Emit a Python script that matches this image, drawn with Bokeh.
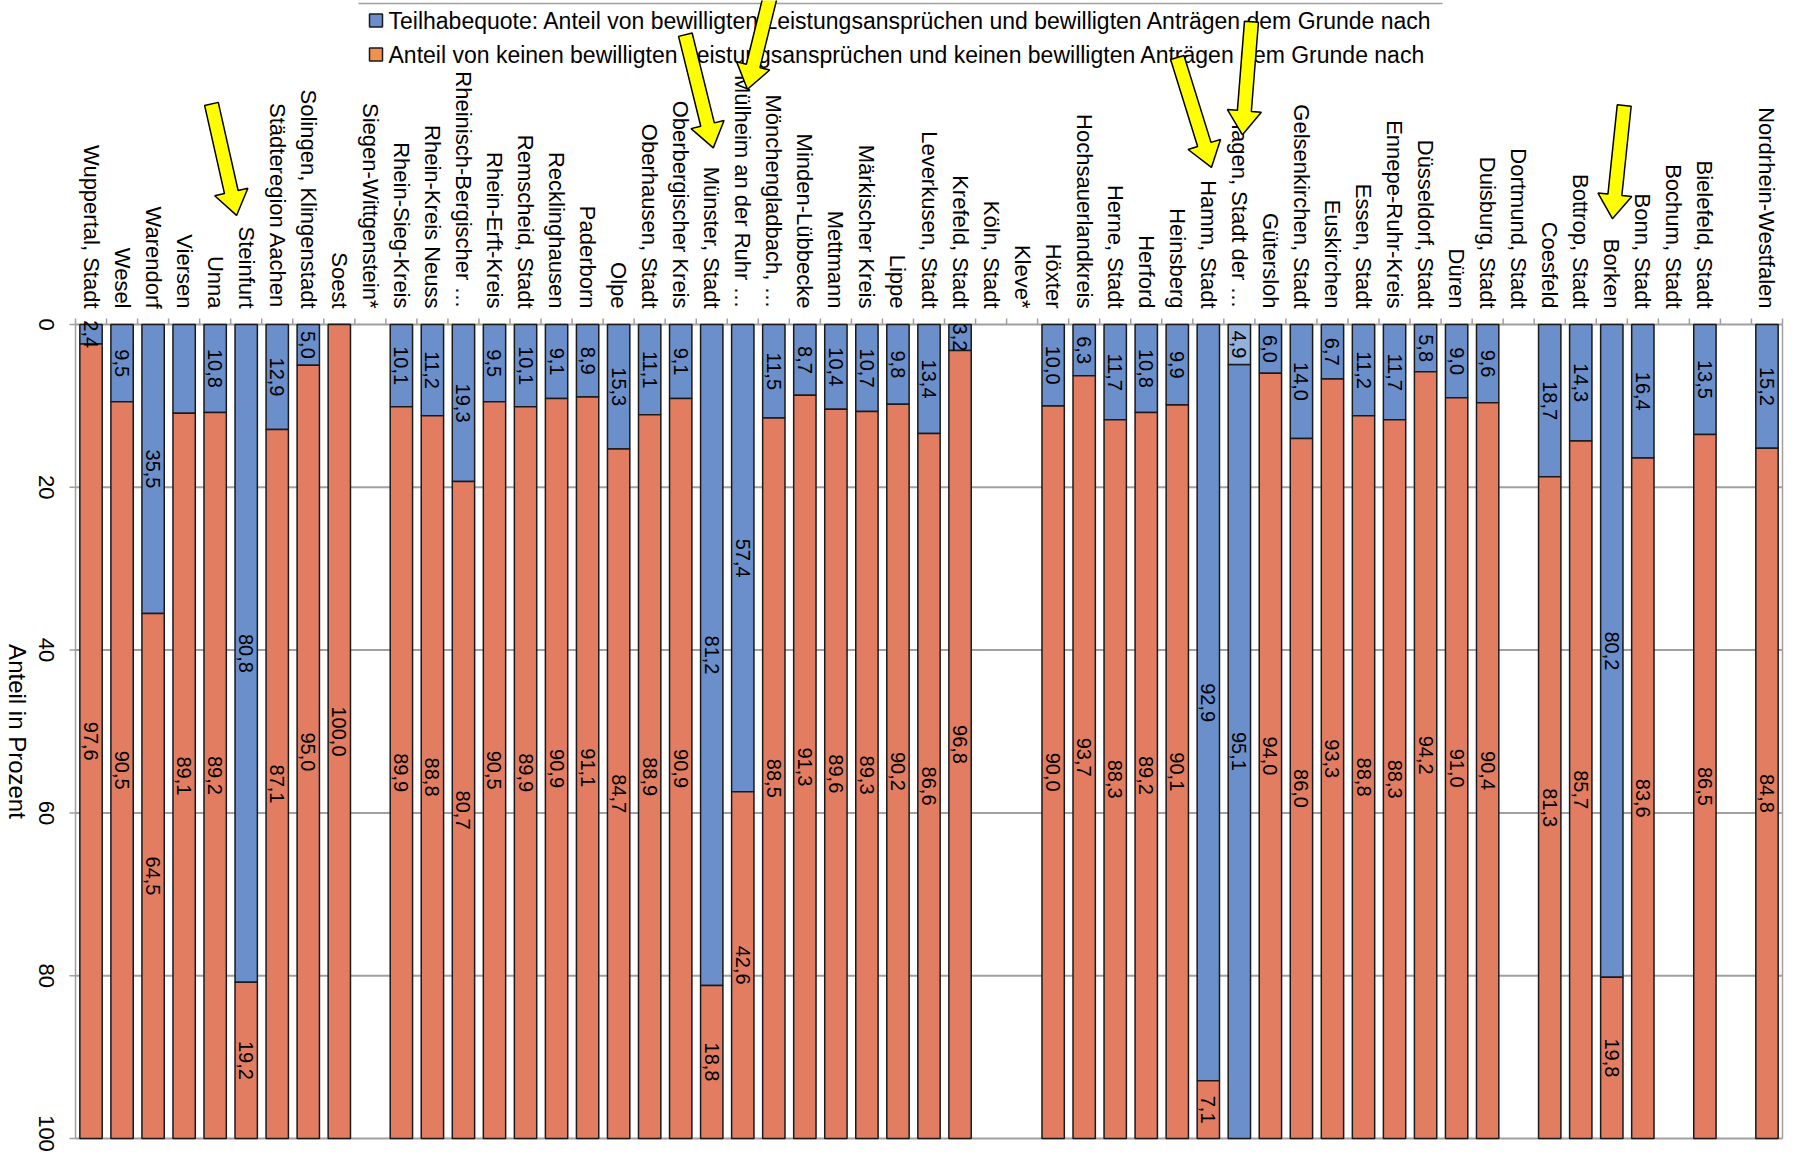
import math
from bokeh.plotting import figure
from bokeh.models import Range1d
from bokeh.core.properties import value
from bokeh.embed import file_html
from bokeh.resources import INLINE

NaN = float("nan")

# ---------------- data ----------------
kreise = ["Wuppertal, Stadt", "Wesel", "Warendorf", "Viersen", "Unna", "Steinfurt",
          "Städteregion Aachen", "Solingen, Klingenstadt", "Soest", "Siegen-Wittgenstein*",
          "Rhein-Sieg-Kreis", "Rhein-Kreis Neuss", "Rheinisch-Bergischer …", "Rhein-Erft-Kreis",
          "Remscheid, Stadt", "Recklinghausen", "Paderborn", "Olpe", "Oberhausen, Stadt",
          "Oberbergischer Kreis", "Münster, Stadt", "Mülheim an der Ruhr …", "Mönchengladbach, …",
          "Minden-Lübbecke", "Mettmann", "Märkischer Kreis", "Lippe", "Leverkusen, Stadt",
          "Krefeld, Stadt", "Köln, Stadt", "Kleve*", "Höxter", "Hochsauerlandkreis",
          "Herne, Stadt", "Herford", "Heinsberg", "Hamm, Stadt", "Hagen, Stadt der …",
          "Gütersloh", "Gelsenkirchen, Stadt", "Euskirchen", "Essen, Stadt", "Ennepe-Ruhr-Kreis",
          "Düsseldorf, Stadt", "Düren", "Duisburg, Stadt", "Dortmund, Stadt", "Coesfeld",
          "Bottrop, Stadt", "Borken", "Bonn, Stadt", "Bochum, Stadt", "Bielefeld, Stadt", "",
          "Nordrhein-Westfalen"]

teilhabe = [2.4, 9.5, 35.5, 10.9, 10.8, 80.8, 12.9, 5.0, 0.0, NaN,
            10.1, 11.2, 19.3, 9.5, 10.1, 9.1, 8.9, 15.3, 11.1, 9.1,
            81.2, 57.4, 11.5, 8.7, 10.4, 10.7, 9.8, 13.4, 3.2, NaN,
            NaN, 10.0, 6.3, 11.7, 10.8, 9.9, 92.9, 95.1, 6.0, 14.0,
            6.7, 11.2, 11.7, 5.8, 9.0, 9.6, NaN, 18.7, 14.3, 80.2,
            16.4, NaN, 13.5, NaN, 15.2]

keine = [97.6, 90.5, 64.5, 89.1, 89.2, 19.2, 87.1, 95.0, 100.0, NaN,
         89.9, 88.8, 80.7, 90.5, 89.9, 90.9, 91.1, 84.7, 88.9, 90.9,
         18.8, 42.6, 88.5, 91.3, 89.6, 89.3, 90.2, 86.6, 96.8, NaN,
         NaN, 90.0, 93.7, 88.3, 89.2, 90.1, 7.1, 4.9, 94.0, 86.0,
         93.3, 88.8, 88.3, 94.2, 91.0, 90.4, NaN, 81.3, 85.7, 19.8,
         83.6, NaN, 86.5, NaN, 84.8]

y_ticks = [0, 20, 40, 60, 80, 100]
y_titel = "Anteil in Prozent"
legende = ["Teilhabequote: Anteil von bewilligten Leistungsansprüchen und bewilligten Anträgen dem Grunde nach",
           "Anteil von keinen bewilligten Leistungsansprüchen und keinen bewilligten Anträgen dem Grunde nach"]
ohne_teilhabe_label = ["Viersen"]          # no data label shown in the original
umgekehrt = ["Hagen, Stadt der …"]         # segment order shown reversed in the original

# arrows: target, tail offset (dx, dy), tip offset (dx, dy) in data units
pfeile = [("Steinfurt", -1.12, -27.1, -0.31, -13.4),
          ("Münster, Stadt", -0.85, -35.6, 0.05, -21.7),
          ("Mülheim an der Ruhr …", 0.89, -40.4, 0.15, -28.9),
          ("Hamm, Stadt", -1.0, -32.8, 0.1, -19.3),
          ("Hagen, Stadt der …", 0.39, -37.2, 0.1, -23.3),
          ("Borken", 0.4, -26.9, 0.02, -13.0)]

# ---------------- style / layout ----------------
BLAU = "#6A8FCB"
ORANGE = "#E27D62"
HELLBLAU = "#93B1DD"
LEG_ORANGE = "#F0914E"
GRAU = "#A0A0A0"
RAND = "#1a1a1a"
FONT = value("Liberation Sans")

W, H = 1797, 1155
FL, FT, FR, FB = 75, 324, 1782, 1138      # plotting area in canvas pixels
n = len(kreise)
sx = (FR - FL) / n
sy = (FB - FT) / 100.0

def xd(px):
    return -0.5 + (px - FL) / sx

def yd(py):
    return (py - FT) / sy

def fmt(v):
    return f"{v:.1f}".replace(".", ",")

# ---------------- segments ----------------
tx, tb, tt = [], [], []
kx, kb, kt = [], [], []
hx, hb, ht = [], [], []
lx, ly, lt = [], [], []
for i, (name, t, k) in enumerate(zip(kreise, teilhabe, keine)):
    if math.isnan(t) or math.isnan(k):
        continue
    if name in umgekehrt:
        hx.append(i); hb.append(0); ht.append(k)
        tx.append(i); tb.append(k); tt.append(k + t)
        lx += [i, i]; ly += [k / 2, k + t / 2]; lt += [fmt(k), fmt(t)]
    else:
        tx.append(i); tb.append(0); tt.append(t)
        kx.append(i); kb.append(t); kt.append(t + k)
        if t > 0 and name not in ohne_teilhabe_label:
            lx.append(i); ly.append(t / 2); lt.append(fmt(t))
        if k > 0:
            lx.append(i); ly.append(t + k / 2); lt.append(fmt(k))

p = figure(width=W, height=H, title=None,
           x_range=Range1d(xd(0), xd(W)), y_range=Range1d(yd(H), yd(0)),
           x_axis_location=None, y_axis_location=None,
           output_backend="svg", toolbar_location=None,
           min_border_left=0, min_border_right=0, min_border_top=0, min_border_bottom=0)
p.background_fill_color = "white"
p.border_fill_color = "white"
p.outline_line_color = None
p.grid.visible = False

# gridlines and frame
p.segment(x0=[-0.5] * len(y_ticks), x1=[n - 0.5] * len(y_ticks), y0=y_ticks, y1=y_ticks,
          line_color=GRAU, line_width=2)
p.segment(x0=[-0.5, n - 0.5], x1=[-0.5, n - 0.5], y0=[0, 0], y1=[100, 100],
          line_color=GRAU, line_width=1.5)

# bars
BW = 0.72
p.vbar(x=tx, bottom=tb, top=tt, width=BW, fill_color=BLAU, line_color=RAND, line_width=1.5)
p.vbar(x=kx, bottom=kb, top=kt, width=BW, fill_color=ORANGE, line_color=RAND, line_width=1.5)
p.vbar(x=hx, bottom=hb, top=ht, width=BW, fill_color=HELLBLAU, line_color=RAND, line_width=1.5)

p.text(x=lx, y=ly, text=lt, angle=-math.pi / 2, text_align="center", text_baseline="middle",
       text_font=FONT, text_font_size="20px", text_color="black")

# category axis (top)
grenzen = [i - 0.5 for i in range(n + 1)]
p.segment(x0=grenzen, x1=grenzen, y0=[0] * len(grenzen), y1=[yd(FT - 6)] * len(grenzen),
          line_color=GRAU, line_width=1.5)
p.text(x=list(range(n)), y=[yd(FT - 16)] * n, text=kreise, angle=-math.pi / 2,
       text_align="right", text_baseline="middle",
       text_font=FONT, text_font_size="22px", text_color="black")

# value axis (left)
p.segment(x0=[xd(FL - 6)] * len(y_ticks), x1=[-0.5] * len(y_ticks), y0=y_ticks, y1=y_ticks,
          line_color=GRAU, line_width=1.5)
tick_y = [min(v, yd(H - 22)) for v in y_ticks]   # keep the last tick label inside the canvas
p.text(x=[xd(46)] * len(y_ticks), y=tick_y, text=[str(v) for v in y_ticks], angle=-math.pi / 2,
       text_align="center", text_baseline="middle",
       text_font=FONT, text_font_size="22px", text_color="black")
p.text(x=[xd(17)], y=[50], text=[y_titel], angle=-math.pi / 2,
       text_align="center", text_baseline="middle",
       text_font=FONT, text_font_size="24px", text_color="black")

# legend
p.segment(x0=[xd(358)], x1=[xd(1442)], y0=[yd(3)], y1=[yd(3)], line_color=GRAU, line_width=1.5)
p.rect(x=[xd(375.5)] * 2, y=[yd(20), yd(54)], width=13, height=13,
       width_units="screen", height_units="screen",
       fill_color=[BLAU, LEG_ORANGE], line_color=RAND, line_width=1.5)
p.text(x=[xd(388)] * 2, y=[yd(20), yd(54)], text=legende, text_align="left", text_baseline="middle",
       text_font=FONT, text_font_size="23px", text_color="black")

# arrows
axs, ays = [], []
for name, dx0, dy0, dx1, dy1 in pfeile:
    i = kreise.index(name)
    X0, Y0 = (i + dx0) * sx, dy0 * sy
    X1, Y1 = (i + dx1) * sx, dy1 * sy
    L = math.hypot(X1 - X0, Y1 - Y0)
    ux, uy = (X1 - X0) / L, (Y1 - Y0) / L
    nx, ny = -uy, ux
    NX, NY = X1 - ux * 24, Y1 - uy * 24
    pts = [(X0 + nx * 7, Y0 + ny * 7), (NX + nx * 7, NY + ny * 7), (NX + nx * 17, NY + ny * 17),
           (X1, Y1), (NX - nx * 17, NY - ny * 17), (NX - nx * 7, NY - ny * 7), (X0 - nx * 7, Y0 - ny * 7)]
    axs.append([a / sx for a, b in pts])
    ays.append([b / sy for a, b in pts])
p.patches(xs=axs, ys=ays, fill_color="#FFFF00", line_color="black", line_width=1.5)

open("out.html", "w").write(file_html(p, INLINE, title="Teilhabequote"))
